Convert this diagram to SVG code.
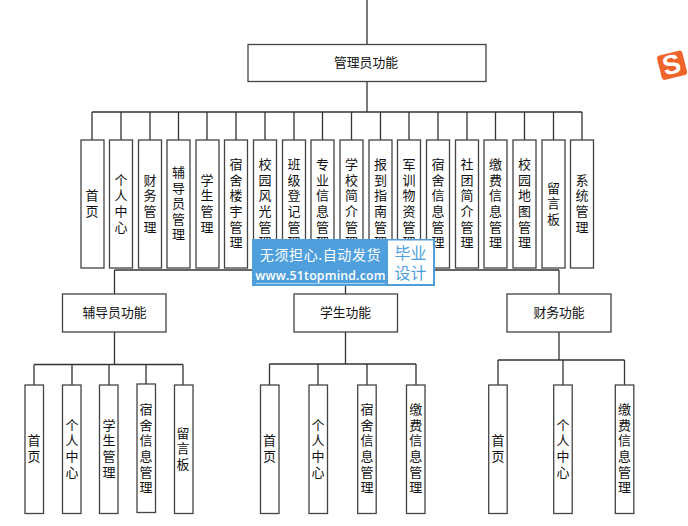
<svg xmlns="http://www.w3.org/2000/svg" width="688" height="526" viewBox="0 0 688 526">
<style>
text{font-family:"Noto Sans CJK SC","Liberation Sans",sans-serif;fill:#111}
.b{fill:#fff;stroke:#444;stroke-width:1.3}
.h{font-size:12.800px;text-anchor:middle}
.v{font-size:13px;text-anchor:middle;writing-mode:vertical-rl;letter-spacing:2.600px}
#connectors path{fill:none;stroke:#333;stroke-width:1.3}
</style>
<rect width="688" height="526" fill="#fff"/>
<g id="connectors">
<path d="M367 0V44M367 81V112M92 112H582M92 112V140M121 112V140M150 112V140M178.500 112V140M207 112V140M236 112V140M265 112V140M294 112V140M322.500 112V140M351.500 112V140M380.500 112V140M409 112V140M438 112V140M467 112V140M495.500 112V140M524.500 112V140M553.500 112V140M582 112V140"/>
<path d="M114.500 270H559"/>
<path d="M114.500 270V294M114.500 332V364.500M34 364.500H183M34 364.500V385M72 364.500V385M109 364.500V385M146 364.500V384M183 364.500V385"/>
<path d="M345.500 270V294M345.500 332V364M269.500 364H416M269.500 364V385M318 364V385M367 364V385M416 364V385"/>
<path d="M559 270V294M559 332V360M498 360H624.500M498 360V385M563 360V385M624.500 360V385"/>
</g>
<g id="n-admin"><rect class="b" x="248" y="44.500" width="238" height="37"/><text class="h" x="366" y="67">管理员功能</text></g>
<g id="n1"><rect class="b" x="81" y="140" width="23" height="128"/><text class="v" x="92" y="204.500">首页</text></g>
<g id="n2"><rect class="b" x="109.500" y="140" width="23" height="128"/><text class="v" x="121" y="204.500">个人中心</text></g>
<g id="n3"><rect class="b" x="138.500" y="140" width="23" height="128"/><text class="v" x="150" y="204.500">财务管理</text></g>
<g id="n4"><rect class="b" x="167" y="140" width="23" height="128"/><text class="v" x="178.500" y="204.500">辅导员管理</text></g>
<g id="n5"><rect class="b" x="196" y="140" width="23" height="128"/><text class="v" x="207" y="204.500">学生管理</text></g>
<g id="n6"><rect class="b" x="224.500" y="140" width="23" height="128"/><text class="v" x="236" y="204.500">宿舍楼宇管理</text></g>
<g id="n7"><rect class="b" x="253.500" y="140" width="23" height="128"/><text class="v" x="265" y="204.500">校园风光管理</text></g>
<g id="n8"><rect class="b" x="282.500" y="140" width="23" height="128"/><text class="v" x="294" y="204.500">班级登记管理</text></g>
<g id="n9"><rect class="b" x="311" y="140" width="23" height="128"/><text class="v" x="322.500" y="204.500">专业信息管理</text></g>
<g id="n10"><rect class="b" x="340" y="140" width="23" height="128"/><text class="v" x="351.500" y="204.500">学校简介管理</text></g>
<g id="n11"><rect class="b" x="369" y="140" width="23" height="128"/><text class="v" x="380.500" y="204.500">报到指南管理</text></g>
<g id="n12"><rect class="b" x="397.500" y="140" width="23" height="128"/><text class="v" x="409" y="204.500">军训物资管理</text></g>
<g id="n13"><rect class="b" x="426.500" y="140" width="23" height="128"/><text class="v" x="438" y="204.500">宿舍信息管理</text></g>
<g id="n14"><rect class="b" x="455.500" y="140" width="23" height="128"/><text class="v" x="467" y="204.500">社团简介管理</text></g>
<g id="n15"><rect class="b" x="484" y="140" width="23" height="128"/><text class="v" x="495.500" y="204.500">缴费信息管理</text></g>
<g id="n16"><rect class="b" x="513" y="140" width="23" height="128"/><text class="v" x="524.500" y="204.500">校园地图管理</text></g>
<g id="n17"><rect class="b" x="542" y="140" width="23" height="128"/><text class="v" x="553.500" y="204.500">留言板</text></g>
<g id="n18"><rect class="b" x="570.500" y="140" width="23" height="128"/><text class="v" x="582" y="204.500">系统管理</text></g>
<g id="n-fdy"><rect class="b" x="62.500" y="294" width="103.500" height="38"/><text class="h" x="114.500" y="317">辅导员功能</text></g>
<g id="n-stu"><rect class="b" x="294" y="294" width="103.500" height="38"/><text class="h" x="345.500" y="317">学生功能</text></g>
<g id="n-fin"><rect class="b" x="507" y="294" width="104" height="38"/><text class="h" x="559" y="317">财务功能</text></g>
<g id="a1"><rect class="b" x="25" y="385" width="18.500" height="128.500"/><text class="v" x="34" y="449.500">首页</text></g>
<g id="a2"><rect class="b" x="62.500" y="385" width="18.500" height="128.500"/><text class="v" x="72" y="449.500">个人中心</text></g>
<g id="a3"><rect class="b" x="99.500" y="385" width="18.500" height="128.500"/><text class="v" x="109" y="449.500">学生管理</text></g>
<g id="a4"><rect class="b" x="137" y="384" width="18.500" height="128.500"/><text class="v" x="146" y="449.500">宿舍信息管理</text></g>
<g id="a5"><rect class="b" x="174.500" y="385" width="18.500" height="128.500"/><text class="v" x="183" y="449.500">留言板</text></g>
<g id="b1"><rect class="b" x="260.500" y="385" width="18.500" height="128.500"/><text class="v" x="269.500" y="449.500">首页</text></g>
<g id="b2"><rect class="b" x="309" y="385" width="18.500" height="128.500"/><text class="v" x="318" y="449.500">个人中心</text></g>
<g id="b3"><rect class="b" x="357.700" y="385" width="18.500" height="128.500"/><text class="v" x="367" y="449.500">宿舍信息管理</text></g>
<g id="b4"><rect class="b" x="406.500" y="385" width="18.500" height="128.500"/><text class="v" x="415.700" y="449.500">缴费信息管理</text></g>
<g id="c1"><rect class="b" x="488.700" y="385" width="18.500" height="128.500"/><text class="v" x="498" y="449.500">首页</text></g>
<g id="c2"><rect class="b" x="553.700" y="385" width="18.500" height="128.500"/><text class="v" x="563" y="449.500">个人中心</text></g>
<g id="c3"><rect class="b" x="615.300" y="385" width="18.500" height="128.500"/><text class="v" x="624.500" y="449.500">缴费信息管理</text></g>
<g id="banner">
<rect x="252" y="239" width="183" height="47" fill="#4f9fdc"/>
<rect x="388" y="240.500" width="45" height="43.500" fill="#fff"/>
<text x="320.500" y="259.500" font-size="14" text-anchor="middle" style="fill:#fff;letter-spacing:.6px">无须担心.自动发货</text>
<text x="320.500" y="280" font-size="12.300" font-weight="600" text-anchor="middle" style="fill:#fff;font-family:'Open Sans','Liberation Sans',sans-serif;letter-spacing:.2px">www.51topmind.com</text>
<path d="M256 283.500H385" stroke="#a9d2f0" stroke-width="1"/>
<text font-size="16" text-anchor="middle" style="fill:#4f9fdc"><tspan x="410.500" y="259">毕业</tspan><tspan x="410.500" y="278.500">设计</tspan></text>
</g>
<g id="sogou">
<rect x="659" y="53" width="26" height="25" rx="3" fill="#f0642a" transform="rotate(-14 671 65)"/>
<text x="671.500" y="74" font-size="27" font-weight="700" text-anchor="middle" transform="rotate(-14 671 65)" style="fill:#fff;font-family:'Liberation Sans',sans-serif">S</text>
</g>
</svg>
